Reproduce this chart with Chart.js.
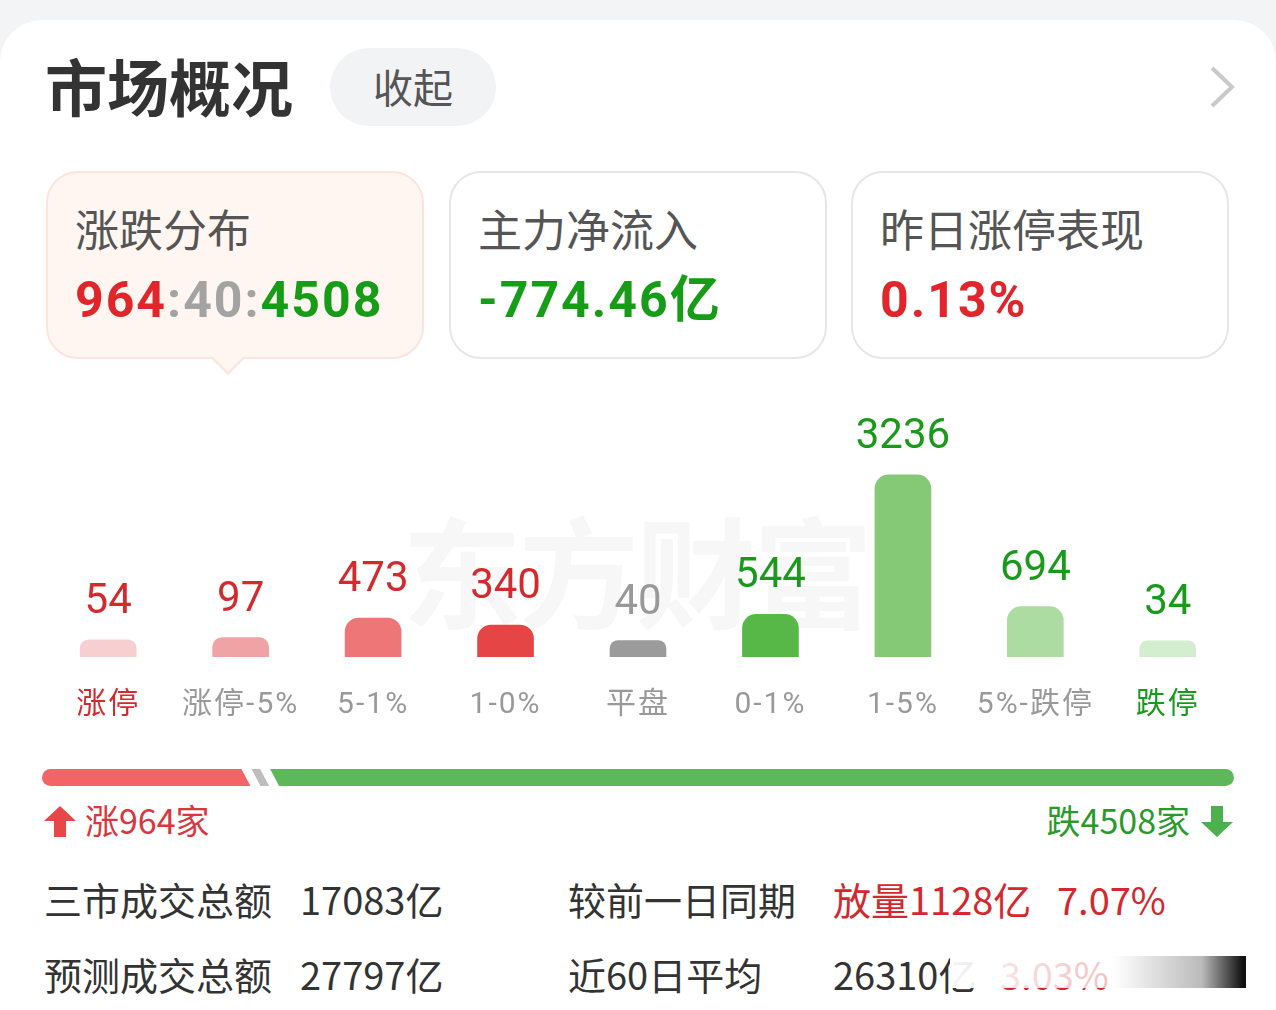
<!DOCTYPE html>
<html>
<head>
<meta charset="utf-8">
<script src="https://cdn.jsdelivr.net/npm/chart.js@4.4.0/dist/chart.umd.min.js"></script>
<style>
body { margin: 0; width: 1276px; height: 1010px; background: #f3f4f6; overflow: hidden; position: relative;
       font-family: "Noto Sans CJK SC", sans-serif; }
.sheet { position: absolute; left: 0; top: 20px; width: 1276px; height: 1010px; background: #fff; border-radius: 42px 42px 0 0; }
.t { position: absolute; white-space: nowrap; line-height: 1; }
.num { font-family: Roboto, "Noto Sans CJK SC", sans-serif; }
.box { position: absolute; top: 171px; height: 184px; width: 374px; border: 2px solid #e6e6e6; border-radius: 32px; background: #fff; }
.box.on { background: #fff5f1; border-color: #fbe4da; }
.pointer { position: absolute; left: 216px; top: 346px; width: 22px; height: 22px; background: #fff5f1;
           border-right: 2px solid #fbe4da; border-bottom: 2px solid #fbe4da; transform: rotate(45deg); }
.pill { position: absolute; left: 330px; top: 48px; width: 166px; height: 78px; border-radius: 39px; background: #f2f3f5; }
#wrap { position: absolute; left: 0; top: 380px; width: 1276px; height: 360px; }
.mark { position: absolute; left: 402px; top: 508px; font-size: 120px; font-weight: 700; color: #f7f7f7; line-height: 1; white-space: nowrap; letter-spacing: -3px; }
.bar { position: absolute; top: 769px; height: 17px; }
.fade { position: absolute; left: 950px; top: 956px; width: 296px; height: 32px;
        background: linear-gradient(to right, rgba(255,255,255,0.95), rgba(255,255,255,0.7) 55%, rgba(170,170,170,0.8) 85%, #111 99%); }
</style>
</head>
<body>
<div class="sheet"></div>

<div class="t" style="left:45px;top:54px;font-size:62px;font-weight:700;color:#333">市场概况</div>
<div class="pill"></div>
<div class="t" style="left:373px;top:66px;font-size:40px;color:#555">收起</div>
<svg style="position:absolute;left:1206px;top:64px" width="34" height="46">
  <polyline points="6,4 26,23 6,42" fill="none" stroke="#c9c9c9" stroke-width="4"/>
</svg>

<div class="box on" style="left:46px"></div>
<div class="pointer"></div>
<div class="box" style="left:449px"></div>
<div class="box" style="left:851px"></div>

<div class="t" style="left:75px;top:206px;font-size:44px;color:#555">涨跌分布</div>
<div class="t" style="left:478px;top:206px;font-size:44px;color:#555">主力净流入</div>
<div class="t" style="left:880px;top:206px;font-size:44px;color:#555">昨日涨停表现</div>

<div class="t num" id="ratio" style="left:75px;top:275px;font-size:50px;font-weight:700;letter-spacing:2px"></div>
<div class="t num" id="flow" style="left:478px;top:275px;font-size:50px;font-weight:700;color:#169c16;letter-spacing:2px"></div>
<div class="t num" id="yday" style="left:880px;top:275px;font-size:50px;font-weight:700;color:#e0262b;letter-spacing:2px"></div>

<div class="mark">东方财富</div>
<div id="wrap"><canvas id="dist"></canvas></div>

<div id="track"></div>
<svg style="position:absolute;left:44px;top:806px" width="32" height="31">
  <polygon points="16,0 32,15 22,15 22,31 10,31 10,15 0,15" fill="#e8474a"/>
</svg>
<div class="t" id="upTxt" style="left:85px;top:803px;font-size:34px;color:#d9363e"></div>
<div class="t" id="downTxt" style="right:86px;top:803px;font-size:34px;color:#2a9a2a"></div>
<svg style="position:absolute;left:1201px;top:806px" width="32" height="31">
  <polygon points="10,0 22,0 22,16 32,16 16,31 0,16 10,16" fill="#4cb04c"/>
</svg>

<div class="t" style="left:44px;top:880px;font-size:38px;color:#333">三市成交总额</div>
<div class="t" id="turnover" style="left:300px;top:880px;font-size:38px;color:#333"></div>
<div class="t" style="left:568px;top:880px;font-size:38px;color:#333">较前一日同期</div>
<div class="t" id="diff" style="left:833px;top:880px;font-size:38px;color:#d4282e"></div>
<div class="t" id="diffPct" style="left:1057px;top:880px;font-size:38px;color:#d4282e"></div>

<div class="t" style="left:44px;top:955px;font-size:38px;color:#333">预测成交总额</div>
<div class="t" id="forecast" style="left:300px;top:955px;font-size:38px;color:#333"></div>
<div class="t" style="left:568px;top:955px;font-size:38px;color:#333">近60日平均</div>
<div class="t" id="avg60" style="left:833px;top:955px;font-size:38px;color:#333"></div>
<div class="t" id="avgPct" style="left:1000px;top:955px;font-size:38px;color:#d4282e"></div>
<div class="fade"></div>

<script>
// distribution buckets
const buckets = ["涨停", "涨停-5%", "5-1%", "1-0%", "平盘", "0-1%", "1-5%", "5%-跌停", "跌停"];
const counts = [54, 97, 473, 340, 40, 544, 3236, 694, 34];
const barColors = ["#f7cfd0", "#f0a3a5", "#ee7677", "#e64546", "#9b9b9b", "#58b847", "#85c977", "#acdca1", "#d3edcf"];
const valueColors = ["#d42a2d", "#d42a2d", "#d42a2d", "#d42a2d", "#999999", "#1a9a1a", "#1a9a1a", "#1a9a1a", "#1a9a1a"];
const tickColors = ["#d42a2d", "#999999", "#999999", "#999999", "#999999", "#999999", "#999999", "#999999", "#1a9a1a"];

// up : flat : down
const upCount = 964;
const flatCount = 40;
const downCount = 4508;

const netFlow = "-774.46亿";
const limitUpYesterday = "0.13%";
const turnover = "17083亿";
const turnoverDiff = "放量1128亿";
const turnoverPct = "7.07%";
const forecast = "27797亿";
const avg60 = "26310亿";
const avg60Pct = "3.03%";

// bars sit on a floor a little below zero, like the app does
const FLOOR = -278;
const Y_TOP = 4682;

document.getElementById("ratio").innerHTML =
    `<span style="color:#e0262b">${upCount}</span><span style="color:#a3a3a3">:${flatCount}:</span><span style="color:#169c16">${downCount}</span>`;
document.getElementById("flow").textContent = netFlow;
document.getElementById("yday").textContent = limitUpYesterday;
document.getElementById("upTxt").textContent = `涨${upCount}家`;
document.getElementById("downTxt").textContent = `跌${downCount}家`;
document.getElementById("turnover").textContent = turnover;
document.getElementById("diff").textContent = turnoverDiff;
document.getElementById("diffPct").textContent = turnoverPct;
document.getElementById("forecast").textContent = forecast;
document.getElementById("avg60").textContent = avg60;
document.getElementById("avgPct").textContent = avg60Pct;

// up/flat/down track
function buildTrack() {
    const left = 42, width = 1192, slant = 9, gap = 10;
    const total = upCount + flatCount + downCount;
    const redW = width * upCount / total;
    const greyW = width * flatCount / total;
    const greyX = left + redW + gap - slant;
    const greenX = greyX + greyW + gap;
    const track = document.getElementById("track");
    const parts = [
        { x: left, w: redW, c: "#f26466", clip: `polygon(0 0, calc(100% - ${slant}px) 0, 100% 100%, 0 100%)`, r: "8.5px 0 0 8.5px" },
        { x: greyX, w: greyW + slant, c: "#bdbdbd", clip: `polygon(0 0, calc(100% - ${slant}px) 0, 100% 100%, ${slant}px 100%)`, r: "0" },
        { x: greenX, w: left + width - greenX, c: "#5cb85a", clip: `polygon(0 0, 100% 0, 100% 100%, ${slant}px 100%)`, r: "0 8.5px 8.5px 0" }
    ];
    parts.forEach(p => {
        const d = document.createElement("div");
        d.className = "bar";
        d.style.left = p.x + "px";
        d.style.width = p.w + "px";
        d.style.background = p.c;
        d.style.clipPath = p.clip;
        d.style.borderRadius = p.r;
        track.appendChild(d);
    });
}
buildTrack();

// wider spacing for the category text, then value numbers above each bar
const tickSpacing = {
    id: "tickSpacing",
    beforeDraw(chart) { chart.ctx.letterSpacing = "2px"; },
    afterDraw(chart) { chart.ctx.letterSpacing = "0px"; }
};

const valueLabels = {
    id: "valueLabels",
    afterDatasetsDraw(chart) {
        const ctx = chart.ctx;
        const meta = chart.getDatasetMeta(0);
        ctx.save();
        ctx.letterSpacing = "0px";
        ctx.font = "42px Roboto";
        ctx.textAlign = "center";
        ctx.textBaseline = "alphabetic";
        meta.data.forEach((bar, i) => {
            ctx.fillStyle = valueColors[i];
            ctx.fillText(String(counts[i]), bar.x, bar.y - 27);
        });
        ctx.restore();
    }
};

new Chart(document.getElementById("dist"), {
    type: "bar",
    data: {
        labels: buckets,
        datasets: [{
            data: counts,
            base: FLOOR,
            backgroundColor: barColors,
            borderRadius: 14,
            borderSkipped: "start",
            barThickness: 56
        }]
    },
    options: {
        responsive: true,
        maintainAspectRatio: false,
        animation: false,
        layout: { padding: { left: 42, right: 42, top: 20, bottom: 0 } },
        plugins: { legend: { display: false }, tooltip: { enabled: false } },
        scales: {
            y: { display: false, min: FLOOR, max: Y_TOP },
            x: {
                grid: { display: false, drawTicks: false },
                border: { display: false },
                ticks: {
                    padding: 30,
                    font: { size: 30, family: "Roboto, 'Noto Sans CJK SC'" },
                    color: ctx => tickColors[ctx.index]
                },
                afterFit: scale => { scale.height = 83; }
            }
        }
    },
    plugins: [tickSpacing, valueLabels]
});
</script>
</body>
</html>
